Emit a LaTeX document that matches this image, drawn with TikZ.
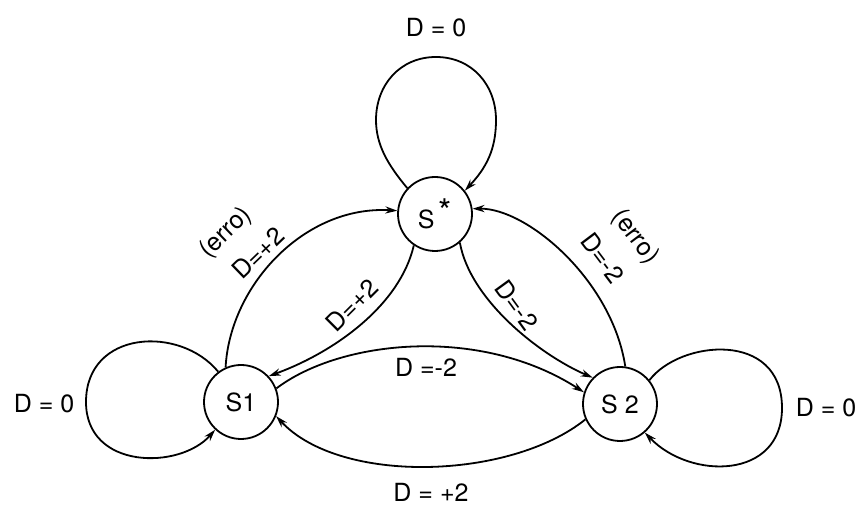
\documentclass[tikz,border=0pt]{standalone}
\usepackage{fontspec}
\setmainfont{TeX Gyre Heros}
\usetikzlibrary{arrows.meta}
\begin{document}
\begin{tikzpicture}[x=0.5pt,y=-0.5pt,
  state/.style={circle,draw,line width=0.9pt,minimum size=37pt,inner sep=0pt,font=\fontsize{12.5}{15}\selectfont},
  edge/.style={line width=0.9pt,-{Stealth[length=6pt,width=3.6pt]}},
  lbl/.style={font=\fontsize{12.5}{15}\selectfont,inner sep=0.5pt}]
\useasboundingbox (0,0) rectangle (861,506);
\node[state] (Sstar) at (435,214) {S\,\raisebox{0.35ex}{\fontsize{17}{17}\selectfont *}};
\node[state] (S1) at (241,402) {S1};
\node[state] (S2) at (620,404) {S 2};
% transitions
\draw[edge] (S1.114) .. controls (230,285) and (305,205) .. (Sstar.175);
\draw[edge] (Sstar.236) .. controls (400,305) and (335,352) .. (S1.43);
\draw[edge] (S2.82) .. controls (612,280) and (527,208) .. (Sstar.8);
\draw[edge] (Sstar.311) .. controls (470,300) and (540,355) .. (S2.136);
\draw[edge] (S1.21) .. controls (340,340) and (480,325) .. (S2.162);
\draw[edge] (S2.204) .. controls (510,480) and (340,485) .. (S1.-22);
% self loops
\coordinate (topA) at (376,120);
\coordinate (topL) at (436,57);
\coordinate (topB) at (496,120);
\coordinate (leftL) at (86,402);
\coordinate (rightL) at (782,408);
\draw[edge] (Sstar.137) .. controls (388,165) and (376,145) .. (topA)
  .. controls (376,85) and (400,57) .. (topL)
  .. controls (472,57) and (496,85) .. (topB)
  .. controls (496,150) and (486,168) .. (Sstar.38);
\draw[edge] (S1.127) .. controls (180,325) and (86,330) .. (leftL) .. controls (86,470) and (180,470) .. (S1.227);
\draw[edge] (S2.39) .. controls (680,340) and (782,330) .. (rightL) .. controls (782,480) and (690,480) .. (S2.311);
% labels
\node[lbl] (l0) at (436,28) {D = 0};
\node[lbl] (l1) at (44,404) {D = 0};
\node[lbl] (l2) at (826,408) {D = 0};
\node[lbl] (l3) at (431,492) {D = +2};
\node[lbl] (l4) at (426,367) {D =-2};
\node[lbl,rotate=45] (l5) at (352,305) {D=+2};
\node[lbl,rotate=-54] (l6) at (517,305) {D=-2};
\node[lbl,rotate=44] (l7a) at (226,233) {(erro)};
\node[lbl,rotate=44] (l7b) at (258,253) {D=+2};
\node[lbl,rotate=-53] (l8a) at (635,237) {(erro)};
\node[lbl,rotate=-53] (l8b) at (603,258) {D=-2};
\end{tikzpicture}
\end{document}
